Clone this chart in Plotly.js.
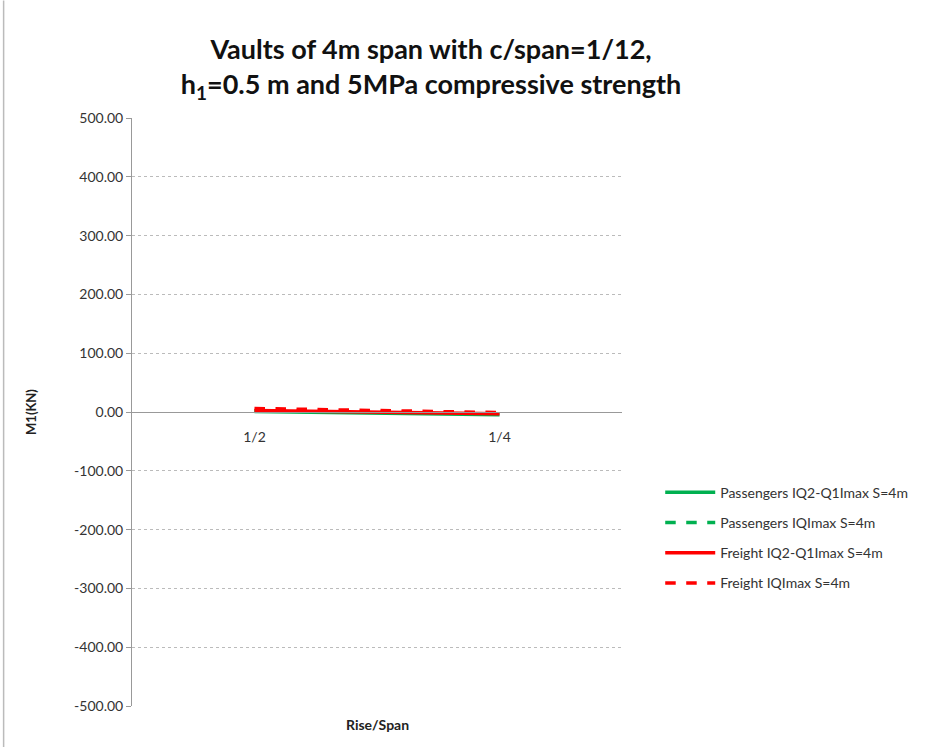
<!DOCTYPE html>
<html><head><meta charset="utf-8">
<script src="https://cdn.plot.ly/plotly-3.0.1.min.js"></script>
<style>body{margin:0;background:#fff}#c{width:937px;height:747px}</style>
</head><body><div id="c"></div>
<script>
const categories = ["1/2", "1/4"];
const passengersQ2Q1 = [1.0, -4.5];
const passengersQmax = [2.0, -3.0];
const freightQ2Q1 = [2.5, -3.0];
const freightQmax = [6.0, -1.0];
const yTicks = [500, 400, 300, 200, 100, 0, -100, -200, -300, -400, -500];
const yTickText = ["500.00","400.00","300.00","200.00","100.00","0.00","-100.00","-200.00","-300.00","-400.00","-500.00"];

const green = "#00b050", red = "#ff0000";
const traces = [
  {x: categories, y: passengersQ2Q1, name: "Passengers IQ2-Q1Imax S=4m", legendgroup: "a", mode: "lines", line: {color: green, width: 3.5}},
  {x: categories, y: passengersQmax, name: "Passengers IQImax S=4m", legendgroup: "b", mode: "lines", line: {color: green, width: 3.5, dash: "dash"}},
  {x: categories, y: freightQ2Q1, name: "Freight IQ2-Q1Imax S=4m", legendgroup: "c", mode: "lines", line: {color: red, width: 3.5}},
  {x: categories, y: freightQmax, name: "Freight IQImax S=4m", legendgroup: "d", mode: "lines", line: {color: red, width: 3.5, dash: "dash"}}
];
const font = "Lato, 'Open Sans', sans-serif";
const layout = {
  width: 937, height: 747,
  margin: {l: 132, r: 315, t: 118, b: 41},
  paper_bgcolor: "#fff", plot_bgcolor: "#fff",
  font: {family: font, size: 14, color: "#333"},
  title: {text: "<b>Vaults of 4m span with c/span=1/12,<br>h<sub>1</sub>=0.5 m and 5MPa compressive strength</b>",
          x: 0.46, xanchor: "center", y: 0.945, yanchor: "top", yref: "container", pad: {t: 18},
          font: {family: font, size: 27, color: "#111"}},
  xaxis: {type: "category", range: [-0.5, 1.5], anchor: "free", position: 0.5,
          showline: true, linecolor: "#999", linewidth: 1, ticks: "", showgrid: false, zeroline: false,
          ticklabelstandoff: 12, tickfont: {family: font, size: 14, color: "#333"}, fixedrange: true},
  yaxis: {range: [-500, 500], tickvals: yTicks, ticktext: yTickText, showline: true, linecolor: "#999",
          ticks: "outside", ticklen: 5, tickcolor: "#999", showgrid: true, gridcolor: "#bbb", griddash: "dot",
          zeroline: true, zerolinecolor: "#999", zerolinewidth: 1,
          tickfont: {family: font, size: 14, color: "#333"},
          title: {text: "<b>M1(KN)</b>", font: {family: font, size: 13, color: "#222"}, standoff: 34}},
  legend: {x: 1.078, xanchor: "left", y: 0.39, yanchor: "top", bgcolor: "rgba(0,0,0,0)",
           font: {family: font, size: 14, color: "#333"}, tracegroupgap: 9, itemwidth: 50},
  annotations: [{text: "<b>Rise/Span</b>", xref: "paper", yref: "paper", x: 0.5, y: -0.013, yanchor: "top",
                 showarrow: false, font: {family: font, size: 14, color: "#222"}}],
  shapes: [{type: "line", xref: "paper", yref: "paper", x0: -0.262, x1: -0.262, y0: -0.07, y1: 1.2, line: {color: "#bbb", width: 1.5}}]
};
Plotly.newPlot("c", traces, layout, {displayModeBar: false});
</script></body></html>
